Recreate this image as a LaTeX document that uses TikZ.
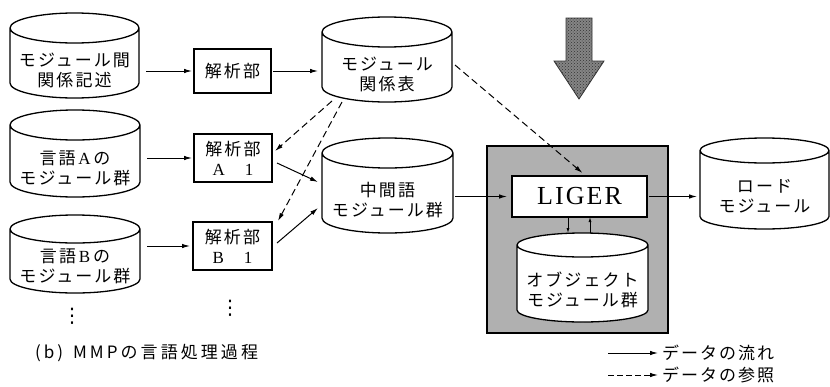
\documentclass[tikz,border=0pt]{standalone}
\usepackage{fontspec}
\usetikzlibrary{arrows.meta,patterns,calc}
\newfontfamily\jpf[LetterSpace=12]{Noto Sans CJK JP}
\newfontfamily\capf[LetterSpace=18]{Noto Sans CJK JP}
\newfontfamily\serf{Liberation Serif}
\newfontfamily\serwide[LetterSpace=8]{Liberation Serif}
\newfontfamily\dejavu{DejaVu Sans}
\newcommand\lat[1]{{\serf #1}}
\newcommand\drawcyl[2]{%
  \draw[cylline] let \p1=(#1.north west), \p2=(#1.south east), \n1={(\x2-\x1)/2} in
    (\x1,\y1+#2pt) -- (\x1,\y2+#2pt)
    arc[start angle=180,end angle=360,x radius=\n1,y radius=#2pt]
    -- (\x2,\y1+#2pt)
    arc[start angle=0,end angle=360,x radius=\n1,y radius=#2pt];}
\begin{document}
\begin{tikzpicture}[x=1pt,y=-1pt,
  every node/.style={inner sep=0pt, outer sep=0pt},
  jptext/.style={font=\jpf\fontsize{17}{20}\selectfont, align=center},
  cylnode/.style={jptext},
  cylline/.style={line width=1.3pt, fill=white},
  procbox/.style={jptext, draw, line width=1.2pt, fill=white},
  flow/.style={line width=1pt, -{Latex[length=8pt,width=4.5pt]}},
  refl/.style={flow, dash pattern=on 7pt off 4pt},
  tiny/.style={line width=0.8pt, -{Latex[length=5pt,width=3pt]}},
  dotsnode/.style={font=\dejavu\fontsize{20}{20}\selectfont}]
\useasboundingbox (0,0) rectangle (830,386);
\fill[white] (0,0) rectangle (830,386);

% container
\node[draw, line width=1.6pt, fill=gray!62, minimum width=181, minimum height=187] (cont) at (577.5,239.5) {};

% big hatched arrow
\fill[black!48] (566,18) -- (592,18) -- (592,61) -- (604,61) -- (579,99) -- (554,61) -- (566,61) -- cycle;
\path[pattern=crosshatch dots, pattern color=black!80] (566,18) -- (592,18) -- (592,61) -- (604,61) -- (579,99) -- (554,61) -- (566,61) -- cycle;
\draw[line width=0.8pt, black!80] (566,18) -- (592,18) -- (592,61) -- (604,61) -- (579,99) -- (554,61) -- (566,61) -- cycle;

% cylinders (node = body below top ellipse)
\node[cylnode, minimum width=129, minimum height=55] (c1) at (74.5,70.5) {};
\drawcyl{c1}{15}
\node[jptext] (t1) at (c1) {モジュール間\\関係記述};
\node[cylnode, minimum width=130, minimum height=57] (c2) at (75,168.5) {};
\drawcyl{c2}{15}
\node[jptext] (t2) at (c2) {言語\,\lat{A}\,の\\モジュール群};
\node[cylnode, minimum width=130, minimum height=50] (c3) at (75,268) {};
\drawcyl{c3}{14}
\node[jptext] (t3) at ([yshift=2pt]c3) {言語\,\lat{B}\,の\\モジュール群};
\node[cylnode, minimum width=130, minimum height=55] (c4) at (387,74.5) {};
\drawcyl{c4}{15}
\node[jptext] (t4) at (c4) {モジュール\\関係表};
\node[cylnode, minimum width=131, minimum height=65] (c5) at (387.5,200.5) {};
\drawcyl{c5}{15}
\node[jptext] (t5) at (c5) {中間語\\モジュール群};
\node[cylnode, minimum width=129, minimum height=66] (c6) at (764.5,196) {};
\drawcyl{c6}{12.5}
\node[jptext] (t6) at (c6) {ロード\\モジュール};
\node[cylnode, minimum width=131, minimum height=65] (c7) at (582.5,289.5) {};
\drawcyl{c7}{12}
\node[jptext] (t7) at (c7) {オブジェクト\\モジュール群};

% process boxes
\node[procbox, minimum width=77, minimum height=44] (p0) at (232.5,71) {解析部};
\node[procbox, minimum width=78, minimum height=48] (p1) at (233,158) {解析部\\\lat{A}\hspace{20pt}\lat{1}};
\node[procbox, minimum width=79, minimum height=48] (p2) at (232.5,246) {解析部\\\lat{B}\hspace{20pt}\lat{1}};
\node[draw, line width=1.2pt, fill=white, minimum width=135, minimum height=41,
      font=\serwide\fontsize{26}{26}\selectfont] (liger) at (579.5,196.5) {LIGER};

% dots
\node[dotsnode] (d1) at (72,316) {⋮};
\node[dotsnode] (d2) at (230,308) {⋮};

% solid flows
\draw[flow, shorten <=7pt, shorten >=2pt] (c1.east |- p0.west) -- (p0.west);
\draw[flow, shorten <=2pt, shorten >=4pt] (p0.east) -- (c4.west |- p0.east);
\draw[flow, shorten <=7pt, shorten >=2pt] (c2.east |- p1.west) -- (p1.west);
\draw[flow, shorten <=7pt, shorten >=3pt] (c3.east |- p2.west) -- (p2.west);
\draw[flow] ([xshift=5pt,yshift=-5pt]p1.east) -- ([xshift=-4pt,yshift=18.5pt]c5.west);
\draw[flow] ([xshift=5pt,yshift=3pt]p2.east) -- ([xshift=-4pt,yshift=-7.5pt]c5.west);
\draw[flow, shorten <=2pt, shorten >=5pt] (c5.east |- liger.west) -- (liger.west);
\draw[flow, shorten <=2pt, shorten >=3pt] (liger.east) -- (c6.west |- liger.east);
\coordinate (c7top) at ([yshift=24pt]c7.north);
\draw[tiny] ([xshift=-11.5pt]liger.south) -- ([xshift=-11.5pt]liger.south |- c7top);
\draw[tiny] ([xshift=10.5pt]liger.south |- c7top) -- ([xshift=10.5pt]liger.south);

% reference (dashed)
\draw[refl] ([xshift=10pt,yshift=1pt]c4.south west) -- ([xshift=3pt,yshift=7pt]p1.east);
\draw[refl] ([xshift=20pt,yshift=0pt]c4.south west) -- ([xshift=6pt,yshift=1pt]p2.north east);
\draw[refl] ([xshift=3pt,yshift=9.5pt]c4.east) -- ([xshift=3pt,yshift=3pt]liger.north);

% legend
\node[jptext, anchor=west] (lt1) at (662,353) {データの流れ};
\node[jptext, anchor=west] (lt2) at (662,375) {データの参照};
\coordinate (ls1) at (608,353);
\coordinate (ls2) at (608,375);
\draw[flow, shorten >=4pt] (ls1) -- (lt1.west);
\draw[refl, dash pattern=on 6pt off 3pt, shorten >=4pt] (ls2) -- (lt2.west);

% caption
\node[anchor=west, font=\capf\fontsize{17}{17}\selectfont] (cap) at (35,353) {(b)\hspace{10pt}MMPの言語処理過程};
\end{tikzpicture}
\end{document}
